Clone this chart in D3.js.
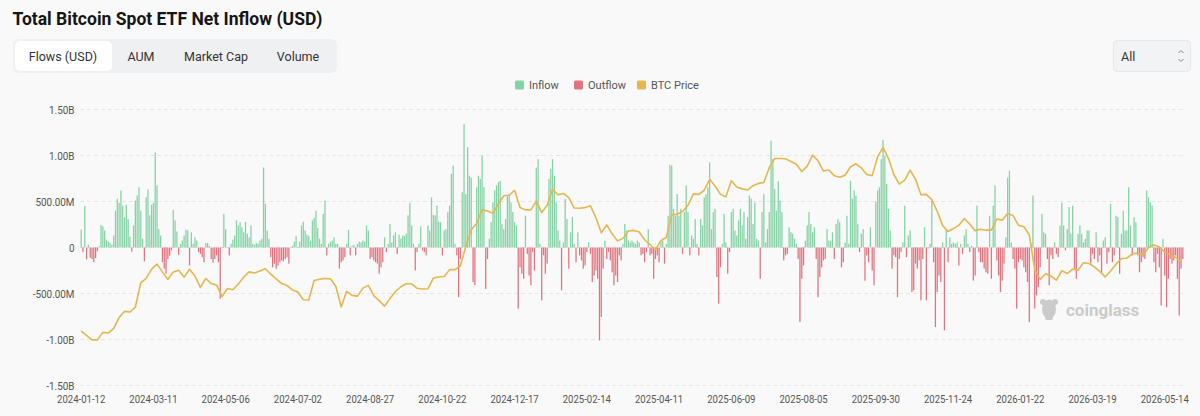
<!DOCTYPE html>
<html>
<head>
<meta charset="utf-8">
<script src="https://cdn.jsdelivr.net/npm/d3@7"></script>
<style>
  html, body { margin: 0; padding: 0; background: #f9f9f9; }
  svg { display: block; }
</style>
</head>
<body>
<div id="chart"></div>
<script>
// daily net flows, millions USD (one value per trading day, from 2024-01-12)
const flows2024 = [
  195,-50,450,-130,30,-110,-125,-160,-115,-40,15,
  245,230,185,85,65,50,30,130,400,530,485,620,455,330,465,310,120,-45,240,510,565,655,400,95,-150,545,630,350,465,485,1030,
  675,200,130,-160,-230,-285,-125,-90,-30,410,295,175,-80,40,75,130,195,185,-195,165,40,110,75,-50,-70,-105,-160,50,50,20,-125,-165,-125,-85,-160,
  -557,
  -5,365,200,5,-85,40,85,130,295,240,275,220,165,280,150,110,240,40,30,50,40,75,95,
  870,
  475,185,95,-105,-215,-175,-230,-195,-160,-140,-150,-125,-105,-175,
  5,20,65,125,-5,65,240,280,185,140,125,75,295,320,400,210,95,40,365,510,-85,40,60,75,110,40,40,-230,-160,-140,-105,40,190,-85,20,30,-85,40,65,
  55,75,65,240,185,-125,-105,-140,-160,-175,-285,-215,-160,110,-50,40,255,55,130,165,-70,140,95,130,125,150,350,485,240,40,-250,-50,40,230,-30,-50,-85,240,185,545,355,350,455,280,275,-85,185,200,385,455,800,890,40,-85,-540,-125,600,
  1340,
  580,1090,780,760,-375,-410,655,780,745,1000,655,-450,-125,95,275,490,620,675,710,
  725,255,200,310,565,580,490,385,275,240,
  -665,
  -215,-285,-340,345,-70,-305,-410,-50,-250
];
const flows2025 = [
  870,960,40,-575,
  -85,-285,-175,
  745,855,960,780,490,185,75,-465,55,530,310,-230,165,330,40,-160,165,-85,-140,-230,-195,-50,55,-70,-375,-305,-250,-340,-1010,
  -755,-230,75,-125,-50,-140,-270,-410,-305,-375,-85,-140,40,255,185,75,55,75,55,40,75,55,
  -85,-70,-160,-50,200,-85,-70,-340,-125,-85,-160,65,75,-175,40,345,
  900,890,
  420,345,580,345,420,-70,385,675,385,-85,130,95,310,40,-85,310,240,545,580,655,925,200,385,420,-320,-610,
  -215,40,365,55,-285,-50,385,420,185,130,295,420,240,385,95,330,565,530,255,490,95,75,-340,385,580,55,200,385,1160,960,635,400,
  720,510,385,
  -140,-85,-70,220,165,150,95,40,-125,-810,
  -340,-195,75,240,385,255,165,220,-125,-540,
  -320,-215,-140,-125,200,75,75,165,-125,255,310,275,-215,-160,55,345,40,725,530,620,565,255,-50,150,200,-360,-85,-160,220,-250,-410,500,620,655,960,
  1170,1000,690,420,185,-230,-85,-105,-540,-125,-50,55,455,-105,130,185,-485,-465,-175,-230,
  -140,-575,-125,220,-575,-10,40,510,-160,-865,-485,-305,-375,55,-900,
  200,-160,110,40,55,40,55,-195,40,-70,130,200,40,-50,20,-360,-305,455,
  -50,-160,-160,-230,-270,-285,345,-340,455
];
const flows2026 = [
  675,-140,-305,-485,-360,-175,110,760,835,
  55,-125,-230,-665,-160,-125,-140,-215,-270,-375,-810,
  40,565,-665,-520,-430,-215,365,165,150,-125,-410,-85,-125,55,-70,-105,
  240,485,240,-30,200,440,150,455,-230,-340,150,240,150,55,95,185,185,-175,-70,-125,165,-160,-85,-270,75,110,-175,-50,475,-160,-85,345,330,-285,150,400,185,185,655,
  240,-85,330,275,-85,-270,-160,-105,-125,620,545,490,455,-160,-270,-70,-215,-630,
  95,-305,-650,-340,-125,-175,-140,-85,-340,-740,-230,-125
];

// BTC price in thousands USD, one reading every 3rd trading day
const priceEvery = 3;
const btcPrice = [
  43.8,42.0,40.0,40.0,43.3,43.0,45.0,49.8,52.5,52.2,54.4,65.0,67.0,71.0,73.2,69.8,66.5,69.8,70.5,67.5,71.0,68.0,63.0,66.9,64.7,64.0,
  59.0,62.5,62.0,64.5,67.5,69.8,69.3,70.2,71.2,68.8,66.7,64.7,63.8,61.9,61.0,57.6,57.5,66.0,66.6,66.9,66.8,63.5,54.4,61.3,59.5,59.2,
  62.7,63.9,59.4,57.2,54.8,58.1,61.2,63.3,64.6,64.6,62.6,62.3,62.4,67.1,67.6,67.8,70.8,70.8,72.5,81.0,88.3,91.0,97.0,96.5,95.5,99.5,
  103.2,103.4,105.6,98.0,97.0,97.0,100.8,95.8,99.0,106.0,103.6,104.2,102.4,97.8,97.7,98.0,98.8,93.6,87.0,90.4,86.5,83.4,84.5,87.7,88.0,87.3,
  83.9,81.8,79.5,83.5,85.0,94.8,95.1,96.3,99.0,104.0,103.8,105.6,110.4,107.5,103.8,102.7,109.8,107.0,106.2,105.7,107.6,108.6,109.0,115.5,119.5,119.5,
  119.4,118.2,117.0,113.8,116.2,121.0,118.5,114.0,114.5,112.0,111.3,112.2,115.9,117.2,115.4,112.5,112.0,120.2,124.4,119.5,112.5,108.3,110.0,114.4,110.4,
  103.6,103.8,101.5,96.4,90.1,87.5,88.8,90.3,93.2,90.8,87.9,88.5,88.1,88.1,93.0,92.5,95.4,94.5,90.3,89.6,86.0,70.8,66.5,69.0,68.0,66.2,
  70.3,69.1,71.0,70.5,73.8,73.5,72.0,70.0,67.6,70.2,73.2,75.7,75.8,77.7,78.1,77.1,80.5,81.6,80.7,78.6,77.4,76.2,74.4
];

const tickLabels = ["2024-01-12","2024-03-11","2024-05-06","2024-07-02","2024-08-27","2024-10-22",
  "2024-12-17","2025-02-14","2025-04-11","2025-06-09","2025-08-05","2025-09-30","2025-11-24",
  "2026-01-22","2026-03-19","2026-05-14"];
const tickEvery = 40;
const yTicks = [-1500, -1000, -500, 0, 500, 1000, 1500];
const tabs = ["Flows (USD)", "AUM", "Market Cap", "Volume"];
const legendItems = ["Inflow", "Outflow", "BTC Price"];

const colors = { inflow: "#86d2a4", outflow: "#e2737e", price: "#e4b74f" };
const ui = "Roboto, 'Noto Sans', sans-serif";

const W = 1200, H = 416;
const svg = d3.select("#chart").append("svg")
  .attr("width", W).attr("height", H);

svg.append("rect").attr("width", W).attr("height", H).attr("fill", "#f9f9f9");

// squeeze a text horizontally (the page uses a condensed face we don't have)
const squeeze = (sel, k) => sel.each(function () {
  const w = this.getComputedTextLength();
  d3.select(this).attr("textLength", w * k).attr("lengthAdjust", "spacingAndGlyphs");
});

// title
svg.append("text")
  .text("Total Bitcoin Spot ETF Net Inflow (USD)")
  .attr("x", 12.5).attr("y", 25)
  .attr("textLength", 310).attr("lengthAdjust", "spacingAndGlyphs")
  .style("font-family", ui).style("font-weight", 700).style("font-size", "19px")
  .attr("fill", "#151515");

// tabs
svg.append("rect").attr("x", 13).attr("y", 39).attr("width", 324).attr("height", 34)
  .attr("rx", 6).attr("fill", "#eff0f2");
svg.append("rect").attr("x", 15).attr("y", 41).attr("width", 97).attr("height", 30)
  .attr("rx", 5).attr("fill", "#ffffff");
const tabX = [63, 141, 216, 298];
svg.selectAll(".tab").data(tabs).join("text")
  .attr("class", "tab")
  .text(d => d)
  .attr("x", (d, i) => tabX[i]).attr("y", 56)
  .attr("text-anchor", "middle").attr("dominant-baseline", "central")
  .style("font-family", ui).style("font-size", "12.5px")
  .attr("fill", "#333");

// range select
svg.append("rect").attr("x", 1113.5).attr("y", 40.5).attr("width", 77).attr("height", 31)
  .attr("rx", 4).attr("fill", "#f2f3f5").attr("stroke", "#e7e8eb");
svg.append("text").text("All").attr("x", 1121).attr("y", 56)
  .attr("dominant-baseline", "central")
  .style("font-family", ui).style("font-size", "12.5px").attr("fill", "#333");
svg.append("path").attr("d", "M1178.5,53 l2.5,-2.5 l2.5,2.5 M1178.5,59 l2.5,2.5 l2.5,-2.5")
  .attr("fill", "none").attr("stroke", "#888").attr("stroke-width", 1);

// legend
const legendX = [515, 574, 637];
const legendColors = [colors.inflow, colors.outflow, colors.price];
const leg = svg.selectAll(".leg").data(legendItems).join("g")
  .attr("class", "leg")
  .attr("transform", (d, i) => `translate(${legendX[i]}, 85)`);
leg.append("rect").attr("x", 0).attr("y", -4.5).attr("width", 9).attr("height", 9)
  .attr("rx", 1.5).attr("fill", (d, i) => legendColors[i]);
leg.append("text").text(d => d).attr("x", 14).attr("y", 0)
  .attr("dominant-baseline", "central")
  .style("font-family", ui).style("font-size", "11px").attr("fill", "#555");

// scales
const flows = flows2024.concat(flows2025, flows2026);
const N = flows.length;
const x = d3.scaleBand().domain(d3.range(N)).range([80, 1184])
  .paddingInner(0.3).paddingOuter(0.3);
const bw = x.bandwidth();
const y = d3.scaleLinear().domain([-1500, 1500]).range([385.5, 109.5]);
const yPrice = d3.scaleLinear().domain([20, 141]).range([385.5, 109.5]);

// grid
svg.append("g").selectAll("line").data(yTicks).join("line")
  .attr("x1", 80).attr("x2", 1184)
  .attr("y1", d => y(d)).attr("y2", d => y(d))
  .attr("stroke", "#e6e6e6").attr("stroke-dasharray", "4 3");

// y labels
const fmt = v => v === 0 ? "0"
  : Math.abs(v) >= 1000 ? (v / 1000).toFixed(2) + "B" : v.toFixed(2) + "M";
svg.append("g").selectAll("text").data(yTicks).join("text")
  .text(fmt)
  .attr("x", 74.5).attr("y", d => y(d))
  .attr("text-anchor", "end").attr("dominant-baseline", "central")
  .style("font-family", ui).style("font-size", "11.5px").attr("fill", "#555")
  .call(squeeze, 0.86);

// x labels
svg.append("g").selectAll("text").data(tickLabels).join("text")
  .text(d => d)
  .attr("x", (d, i) => x(i * tickEvery) + bw / 2).attr("y", 399)
  .attr("text-anchor", "middle").attr("dominant-baseline", "central")
  .style("font-family", ui).style("font-size", "11.5px").attr("fill", "#555")
  .call(squeeze, 0.83);

// watermark
const wm = svg.append("g").attr("fill", "#cbcbcb");
wm.append("ellipse").attr("cx", 1049).attr("cy", 309).attr("rx", 7).attr("ry", 9.5);
wm.append("circle").attr("cx", 1043).attr("cy", 302).attr("r", 3);
wm.append("circle").attr("cx", 1055).attr("cy", 302).attr("r", 3);
wm.append("rect").attr("x", 1045).attr("y", 314).attr("width", 8).attr("height", 6).attr("rx", 2);
wm.append("text").text("coinglass").attr("x", 1066).attr("y", 316)
  .style("font-family", ui).style("font-weight", 700).style("font-size", "17px");

// bars
svg.append("g").selectAll("rect").data(flows).join("rect")
  .attr("x", (d, i) => x(i))
  .attr("y", d => y(Math.max(0, d)))
  .attr("width", bw)
  .attr("height", d => Math.abs(y(d) - y(0)))
  .attr("fill", d => d >= 0 ? colors.inflow : colors.outflow);

// price line
const line = d3.line()
  .x((d, k) => x(k * priceEvery) + bw / 2)
  .y(d => yPrice(d));
svg.append("path").datum(btcPrice)
  .attr("d", line)
  .attr("fill", "none")
  .attr("stroke", colors.price)
  .attr("stroke-width", 1.6)
  .attr("stroke-linejoin", "round");
</script>
</body>
</html>
